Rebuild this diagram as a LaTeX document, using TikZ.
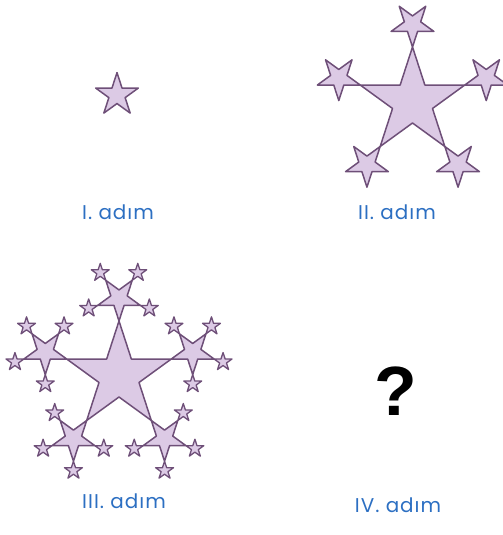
\documentclass[tikz,border=0pt]{standalone}
\usepackage{fontspec}
\setmainfont{Poppins}[LetterSpace=5]
\newfontfamily\qfont{Liberation Sans}
\definecolor{starfill}{HTML}{DCCAE5}
\definecolor{starline}{HTML}{6E4F78}
\definecolor{lblblue}{HTML}{2C6FC2}
\tikzset{
  starst/.style={draw=starline,fill=starfill,line width=1.5bp,line join=round},
  tinyst/.style={starst,line width=1.3bp},
  lbl/.style={text=lblblue,font=\fontsize{20}{22}\selectfont,inner sep=0pt,anchor=base}
}
% #1 style, #2 cx, #3 cy, #4 R, #5 angle of first tip (y axis points down)
\newcommand\pstar[5]{%
  \path[#1] ({#2+#4*cos(#5)},{#3+#4*sin(#5)})
  \foreach \q in {1,...,9}{
    -- ({#2+(mod(\q,2)==0?1:0.381966)*#4*cos(#5+36*\q)},{#3+(mod(\q,2)==0?1:0.381966)*#4*sin(#5+36*\q)})
  } -- cycle;}
\begin{document}
\begin{tikzpicture}[x=1bp,y=-1bp]
\useasboundingbox (0,0) rectangle (503,535);
% ---- step I
\pstar{starst}{117}{95}{22.4}{-90}
% ---- step II
\def\Cx{412.5}\def\Cy{102}\def\RR{55}\def\rr{22.5}
\pstar{starst}{\Cx}{\Cy}{\RR}{-90}
\foreach \k in {0,...,4}{
  \pgfmathsetmacro\mx{\Cx+(\RR+\rr)*cos(-90+72*\k)}
  \pgfmathsetmacro\my{\Cy+(\RR+\rr)*sin(-90+72*\k)}
  \pstar{starst}{\mx}{\my}{\rr}{90}
}
% ---- step III
\def\Dx{119}\def\Dy{376}\def\tt{9.4}
\pstar{starst}{\Dx}{\Dy}{\RR}{-90}
\foreach \k in {0,...,4}{
  \pgfmathsetmacro\mx{\Dx+(\RR+\rr)*cos(-90+72*\k)}
  \pgfmathsetmacro\my{\Dy+(\RR+\rr)*sin(-90+72*\k)}
  \pstar{starst}{\mx}{\my}{\rr}{90}
  \foreach \j in {0,...,4}{
    \ifnum\j=\k\else
      \pgfmathsetmacro\sx{\mx+(\rr+\tt)*cos(90+72*\j)}
      \pgfmathsetmacro\sy{\my+(\rr+\tt)*sin(90+72*\j)}
      \pstar{tinyst}{\sx}{\sy}{\tt}{-90}
    \fi
  }
}
% ---- labels
\node[lbl] (l1) at (118,219) {I. adım};
\node[lbl] (l2) at (397,219) {II. adım};
\node[lbl] (l3) at (124,508) {III. adım};
\node[lbl] (l4) at (398,512) {IV. adım};
\node[font=\qfont\bfseries\fontsize{70}{70}\selectfont,inner sep=0pt] (q) at (396,391) {?};
\end{tikzpicture}
\end{document}
